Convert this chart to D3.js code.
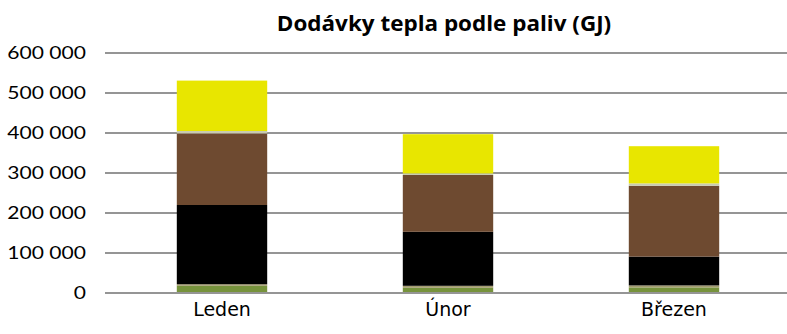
<!DOCTYPE html>
<html>
<head>
<meta charset="utf-8">
<script src="https://cdn.jsdelivr.net/npm/d3@7"></script>
<style>
  html, body { margin: 0; padding: 0; background: #fff; }
  svg { display: block; }
</style>
</head>
<body>
<svg id="chart" width="787" height="334"></svg>
<script>
// Months shown on the x axis
const months = ["Leden", "Únor", "Březen"];

// Heat delivered per fuel (GJ), stacked from the bottom up
const fuelKeys = ["biomasa", "plyn", "cerneUhli", "hnedeUhli", "ostatni", "zemniPlyn"];
const biomasa   = [18000, 13000, 14000];
const plyn      = [4000, 5000, 5000];
const cerneUhli = [198000, 135000, 72000];
const hnedeUhli = [179000, 142000, 177000];
const ostatni   = [6000, 4000, 6000];
const zemniPlyn = [126000, 98000, 93000];

const fuelColors = ["#77933C", "#A39C6F", "#000000", "#6E4A30", "#C8CBB0", "#E8E600"];

const yTicks = [0, 100000, 200000, 300000, 400000, 500000, 600000];
const title = "Dodávky tepla podle paliv (GJ)";

const series = [biomasa, plyn, cerneUhli, hnedeUhli, ostatni, zemniPlyn];
const rows = months.map((m, i) => {
  const r = { month: m };
  fuelKeys.forEach((k, j) => { r[k] = series[j][i]; });
  return r;
});

const svg = d3.select("#chart");
const margin = { left: 109, right: 0, top: 53, bottom: 41 };
const W = 787, H = 334;

const x = d3.scaleBand().domain(months).range([margin.left, W - margin.right]).paddingInner(0.6).paddingOuter(0.3);
const y = d3.scaleLinear().domain([0, 600000]).range([H - margin.bottom, margin.top]);

const fmt = v => d3.format(",")(v).replace(/,/g, " ");

// Horizontal gridlines
svg.append("g")
  .selectAll("line")
  .data(yTicks)
  .join("line")
  .attr("x1", margin.left - 4)
  .attr("x2", W)
  .attr("y1", d => Math.round(y(d)))
  .attr("y2", d => Math.round(y(d)))
  .attr("stroke", "#959595")
  .attr("stroke-width", 2);

// Y tick labels (slightly widened to suit the narrow face)
svg.append("g")
  .selectAll("text")
  .data(yTicks)
  .join("text")
  .attr("transform", d => `translate(86,${y(d)}) scale(1.17,1)`)
  .attr("dy", "0.35em")
  .attr("text-anchor", "end")
  .attr("font-family", "Lato, 'Open Sans', sans-serif")
  .attr("font-size", 18)
  .attr("fill", "#000")
  .text(fmt);

// Stacked bars
const stack = d3.stack().keys(fuelKeys)(rows);
svg.append("g")
  .selectAll("g")
  .data(stack)
  .join("g")
  .attr("fill", (d, i) => fuelColors[i])
  .selectAll("rect")
  .data(d => d)
  .join("rect")
  .attr("x", d => x(d.data.month))
  .attr("width", x.bandwidth())
  .attr("y", d => y(d[1]))
  .attr("height", d => y(d[0]) - y(d[1]));

// Baseline drawn over the bars
svg.append("line")
  .attr("x1", margin.left - 4).attr("x2", W)
  .attr("y1", Math.round(y(0))).attr("y2", Math.round(y(0)))
  .attr("stroke", "#959595").attr("stroke-width", 2);

// Category labels
svg.append("g")
  .selectAll("text")
  .data(months)
  .join("text")
  .attr("x", d => x(d) + x.bandwidth() / 2)
  .attr("y", 316)
  .attr("text-anchor", "middle")
  .attr("font-family", "'DejaVu Sans', sans-serif")
  .attr("font-size", 19)
  .attr("fill", "#000")
  .text(d => d);

// Title
svg.append("text")
  .attr("transform", "translate(444,31) scale(1.07,1)")
  .attr("text-anchor", "middle")
  .attr("font-family", "'Open Sans', sans-serif")
  .attr("font-weight", "bold")
  .attr("font-size", 21)
  .attr("fill", "#000")
  .text(title);
</script>
</body>
</html>
